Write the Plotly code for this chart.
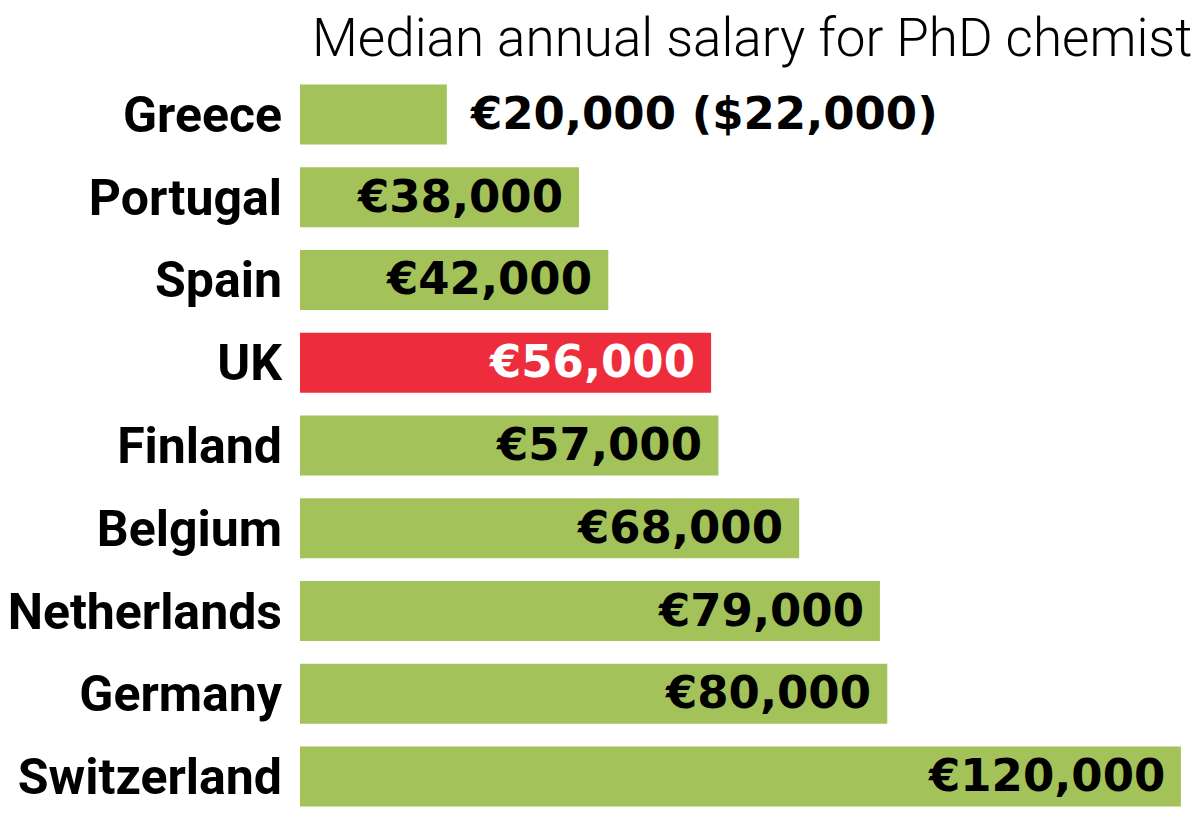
import plotly.graph_objects as go

countries = ["Greece", "Portugal", "Spain", "UK", "Finland", "Belgium",
             "Netherlands", "Germany", "Switzerland"]
salaries = [20000, 38000, 42000, 56000, 57000, 68000, 79000, 80000, 120000]
labels = ["€20,000 ($22,000)", "€38,000", "€42,000", "€56,000", "€57,000",
          "€68,000", "€79,000", "€80,000", "€120,000"]
highlight = "UK"
title_text = "Median annual salary for PhD chemist"

GREEN = "#a3c35a"
RED = "#ee2d3c"
colors = [RED if c == highlight else GREEN for c in countries]

fig = go.Figure(go.Bar(
    x=salaries, y=countries, orientation="h",
    marker=dict(color=colors, line=dict(width=0)),
    width=0.725, hoverinfo="skip",
))

LABEL_FONT = "Roboto"
VALUE_FONT = "DejaVu Sans"
for i, (c, v, t) in enumerate(zip(countries, salaries, labels)):
    outside = (i == 0)
    fig.add_annotation(
        x=v, y=c, xref="x", yref="y", text=t, showarrow=False,
        xanchor="left" if outside else "right",
        xshift=21 if outside else -14,
        yshift=1,
        font=dict(family=VALUE_FONT, size=45, weight="bold",
                  color="white" if c == highlight else "black"),
    )

fig.add_annotation(
    xref="paper", yref="paper", x=1, y=1, xanchor="right", yanchor="middle",
    xshift=-6, yshift=35, showarrow=False, text=title_text,
    font=dict(family=LABEL_FONT, size=53, weight=300, color="black"),
)

fig.update_layout(
    width=1192, height=810,
    margin=dict(l=292, r=0, t=65, b=0, autoexpand=False),
    paper_bgcolor="white", plot_bgcolor="white",
    showlegend=False,
    xaxis=dict(range=[0, 122600], visible=False, fixedrange=True),
    yaxis=dict(autorange="reversed", showgrid=False, zeroline=False,
               showline=False, ticks="", ticklabelstandoff=17, automargin=False,
               tickfont=dict(family=LABEL_FONT, size=50, weight="bold", color="black")),
)

fig.write_html("out.html")
